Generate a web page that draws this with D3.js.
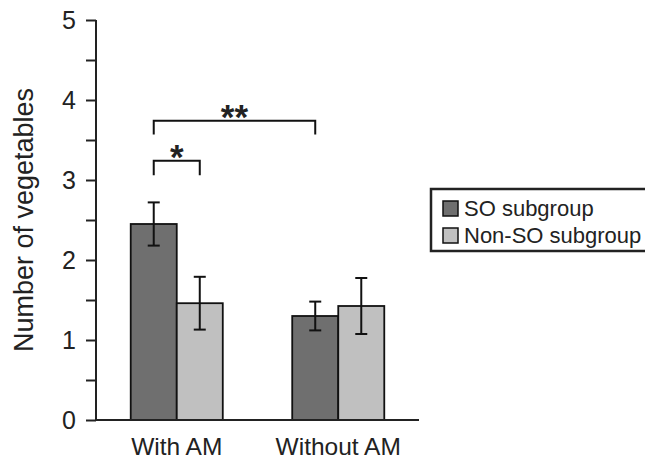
<!DOCTYPE html>
<html>
<head>
  <meta charset="utf-8">
  <title>Number of vegetables</title>
  <script src="https://cdn.jsdelivr.net/npm/d3@7"></script>
  <style>
    body { margin: 0; background: #fff; }
    text { font-family: "Liberation Sans", Arial, sans-serif; fill: #222; }
  </style>
</head>
<body>
<script>
// data
var groups = ["With AM", "Without AM"];
var subgroups = ["SO subgroup", "Non-SO subgroup"];
var means = [[2.45, 1.46], [1.30, 1.425]];
var errs = [[0.27, 0.33], [0.18, 0.35]];
var yTicks = [0, 0.5, 1, 1.5, 2, 2.5, 3, 3.5, 4, 4.5, 5];
// brackets: [from group, from sub, to group, to sub, level, leg bottom, label]
var brackets = [
  [0, 0, 0, 1, 3.24, 3.06, "*"],
  [0, 0, 1, 0, 3.74, 3.57, "**"]
];

var width = 645, height = 466;
var margin = { top: 20, right: 226, bottom: 46, left: 96 };
var colors = ["#6f6f6f", "#c0c0c0"];

var svg = d3.select("body").append("svg")
  .attr("width", width).attr("height", height);

var x0 = d3.scaleBand().domain(groups)
  .range([margin.left, width - margin.right])
  .paddingInner(0.43).paddingOuter(0.215);
var x1 = d3.scaleBand().domain(d3.range(subgroups.length))
  .range([0, x0.bandwidth()]);
var y = d3.scaleLinear().domain([0, 5])
  .range([height - margin.bottom, margin.top]);

// bars
var g = svg.selectAll("g.grp").data(groups).enter().append("g")
  .attr("class", "grp")
  .attr("transform", function(d) { return "translate(" + x0(d) + ",0)"; });

g.selectAll("rect").data(function(d, i) {
    return means[i].map(function(v, j) { return { v: v, e: errs[i][j], j: j }; });
  }).enter().append("rect")
  .attr("x", function(d) { return x1(d.j); })
  .attr("y", function(d) { return y(d.v); })
  .attr("width", x1.bandwidth())
  .attr("height", function(d) { return y(0) - y(d.v); })
  .attr("fill", function(d) { return colors[d.j]; })
  .attr("stroke", "#111")
  .attr("stroke-width", 1.8);

// error bars
var eb = g.selectAll("g.err").data(function(d, i) {
    return means[i].map(function(v, j) { return { v: v, e: errs[i][j], j: j }; });
  }).enter().append("g").attr("class", "err")
  .attr("stroke", "#111").attr("stroke-width", 2);
eb.append("line")
  .attr("x1", function(d) { return x1(d.j) + x1.bandwidth() / 2; })
  .attr("x2", function(d) { return x1(d.j) + x1.bandwidth() / 2; })
  .attr("y1", function(d) { return y(d.v + d.e); })
  .attr("y2", function(d) { return y(d.v - d.e); });
[1, -1].forEach(function(s) {
  eb.append("line")
    .attr("x1", function(d) { return x1(d.j) + x1.bandwidth() / 2 - 6; })
    .attr("x2", function(d) { return x1(d.j) + x1.bandwidth() / 2 + 6; })
    .attr("y1", function(d) { return y(d.v + s * d.e); })
    .attr("y2", function(d) { return y(d.v + s * d.e); });
});

// axes
var yAxis = svg.append("g")
  .attr("transform", "translate(" + margin.left + ",0)")
  .call(d3.axisLeft(y).tickValues(yTicks).tickSize(10).tickPadding(10)
    .tickFormat(function(d) { return d % 1 === 0 ? d : ""; }));
yAxis.select(".domain").attr("stroke", "#222").attr("stroke-width", 2)
  .attr("d", "M0," + y(5) + "V" + y(0));
yAxis.selectAll(".tick line").attr("stroke", "#222").attr("stroke-width", 2);
yAxis.selectAll(".tick text").attr("font-size", 25).attr("fill", "#222")
  .attr("font-family", "Liberation Sans, Arial, sans-serif");

svg.append("line")
  .attr("x1", margin.left).attr("x2", width - margin.right)
  .attr("y1", y(0)).attr("y2", y(0))
  .attr("stroke", "#222").attr("stroke-width", 2);

svg.selectAll("text.xlab").data(groups).enter().append("text")
  .attr("class", "xlab")
  .attr("x", function(d) { return x0(d) + x0.bandwidth() / 2; })
  .attr("y", 455)
  .attr("text-anchor", "middle")
  .attr("font-size", 24.5)
  .text(function(d) { return d; });

svg.append("text")
  .attr("transform", "translate(33," + (y(0) + y(5)) / 2 + ") rotate(-90)")
  .attr("text-anchor", "middle")
  .attr("font-size", 27)
  .text("Number of vegetables");

// significance brackets
function cx(gi, si) { return x0(groups[gi]) + x1(si) + x1.bandwidth() / 2; }
brackets.forEach(function(b) {
  var xa = cx(b[0], b[1]), xb = cx(b[2], b[3]);
  svg.append("path")
    .attr("d", "M" + xa + "," + y(b[5]) + "V" + y(b[4]) + "H" + xb + "V" + y(b[5]))
    .attr("fill", "none").attr("stroke", "#111").attr("stroke-width", 2);
  svg.append("text")
    .attr("x", (xa + xb) / 2)
    .attr("y", y(b[4]) + 8.5)
    .attr("text-anchor", "middle")
    .attr("font-size", 35)
    .attr("font-weight", "bold")
    .text(b[6]);
});

// legend
var lg = svg.append("g").attr("transform", "translate(431,189)");
lg.append("rect")
  .attr("width", 240).attr("height", 62)
  .attr("fill", "#fff").attr("stroke", "#222").attr("stroke-width", 2.5);
var li = lg.selectAll("g.li").data(subgroups).enter().append("g")
  .attr("class", "li")
  .attr("transform", function(d, i) { return "translate(12," + (12 + i * 27) + ")"; });
li.append("rect")
  .attr("width", 15).attr("height", 15)
  .attr("fill", function(d, i) { return colors[i]; })
  .attr("stroke", "#111").attr("stroke-width", 1.5);
li.append("text")
  .attr("x", 21).attr("y", 15)
  .attr("font-size", 22)
  .text(function(d) { return d; });
</script>
</body>
</html>
